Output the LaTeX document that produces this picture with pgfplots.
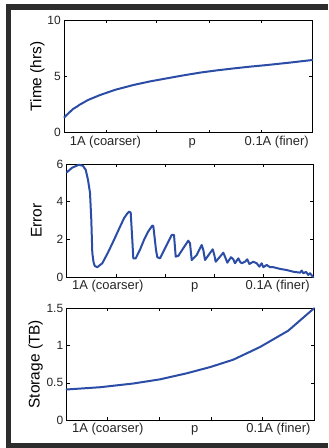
\documentclass[border=0pt]{standalone}
\usepackage{pgfplots}
\pgfplotsset{compat=1.18}
\usepackage{fontspec}
\setmainfont{Liberation Sans}
\definecolor{framec}{RGB}{45,45,45}
\definecolor{linec}{RGB}{44,77,166}
\pgfplotsset{
  myax/.style={
    scale only axis, anchor=south west,
    axis line style={black, line width=0.6bp},
    tick pos=both, tick align=inside,
    major tick length=3bp,
    every tick/.style={black, line width=0.5bp},
    xticklabels={},
    /pgf/number format/assume math mode=true,
    yticklabel style={font=\fontsize{12}{12}\selectfont, text=black!85},
    every axis y label/.style={at={(axis description cs:0,0.5)}, rotate=90, anchor=base, font=\fontsize{15.5}{16}\selectfont},
    clip=false,
  },
  myline/.style={linec, line width=2bp, line join=round, line cap=round},
}
\newcommand{\xlabs}{%
  \node[anchor=base west, font=\fontsize{13}{13}\selectfont, text=black!85] at ([xshift=2bp,yshift=-12.8bp]rel axis cs:0,0) {1A (coarser)};
  \node[anchor=base, font=\fontsize{13}{13}\selectfont, text=black!85] at ([xshift=128bp,yshift=-12.8bp]rel axis cs:0,0) {p};
  \node[anchor=base east, font=\fontsize{13}{13}\selectfont, text=black!85] at ([yshift=-12.8bp]rel axis cs:1,0) {0.1A (finer)};
}
\begin{document}
\begin{tikzpicture}[x=1bp,y=1bp]
\path[use as bounding box] (0,0) rectangle (328,448);
\fill[framec] (6,0) rectangle (328,444);
\fill[white] (11,5) rectangle (328,438);

% Plot 1: Time
\begin{axis}[myax, at={(64.3bp,315.3bp)}, width=248bp, height=112.7bp,
  xmin=64.3, xmax=312.3, ymin=0, ymax=10,
  xtick={106.7,156.7,209,261}, ytick={0,5,10},
  ylabel={Time (hrs)}, ylabel style={xshift=0bp},
  every axis y label/.append style={at={([xshift=-23bp]axis description cs:0,0.5)}}]
\addplot[myline] coordinates {
(64.3,1.36) (67,1.6) (70,1.85) (73,2.1) (76.7,2.3) (80,2.5) (88,2.9) (100,3.34)
(115,3.8) (133.3,4.23) (150,4.55) (166.7,4.82) (183,5.08) (200,5.33) (216,5.52)
(233.3,5.7) (250,5.86) (266.7,6.0) (290,6.22) (312.3,6.45)};
\xlabs
\end{axis}

% Plot 2: Error
\begin{axis}[myax, at={(66.7bp,171bp)}, width=246.6bp, height=113bp,
  xmin=66.7, xmax=313.3, ymin=0, ymax=6,
  xtick={116,165,214,263}, ytick={0,2,4,6},
  ylabel={Error},
  every axis y label/.append style={at={([xshift=-25bp]axis description cs:0,0.5)}}]
\addplot[myline] coordinates {
(66.7,5.55) (72,5.8) (79,5.96) (83,5.9) (85.7,5.69) (88,5.16) (90,4.47) (91.3,3.03)
(92.3,1.28) (93.5,0.8) (94.7,0.59) (97.3,0.52) (102.3,0.73) (108,1.3) (114,1.97)
(119,2.55) (124,3.12) (127,3.35) (129,3.47) (130.7,3.42) (132.3,1.97) (133.3,0.99)
(135.7,0.99) (140,1.45) (144,1.97) (148,2.4) (152.3,2.73) (153.3,2.71) (156,1.44)
(157.3,1.05) (160,0.99) (166.7,1.70) (171.7,2.23) (174,2.23) (175.7,1.08) (178.3,1.12)
(183.3,1.53) (188.3,1.93) (190,1.79) (191.7,0.90) (196.7,1.17) (201.7,1.70) (203.3,1.44)
(205,0.90) (209.3,1.22) (212.7,1.47) (214.3,1.17) (215.7,0.81) (220,1.08) (223.3,1.29)
(225,1.08) (227.3,0.76) (231,1.05) (233.3,0.94) (235,0.73) (238.3,0.99) (240,0.81)
(241.7,0.73) (245,0.81) (247.3,0.94) (249.3,0.69) (253.3,0.81) (256.7,0.73) (259.3,0.55)
(261.7,0.73) (263.3,0.52) (266.7,0.64) (270,0.52) (273.3,0.52) (280,0.43) (286.7,0.37)
(293.3,0.28) (300,0.23) (301.7,0.34) (303.3,0.2) (306,0.27) (308.3,0.11) (310,0.2)
(312.7,0.02) (313.3,0.0)};
\xlabs
\end{axis}

% Plot 3: Storage
\begin{axis}[myax, at={(66.7bp,28bp)}, width=247.3bp, height=111.7bp,
  xmin=66.7, xmax=314, ymin=0, ymax=1.5,
  xtick={107.3,159.3,211,262.7}, ytick={0,0.5,1,1.5},
  yticklabel style={/pgf/number format/fixed},
  ylabel={Storage (TB)},
  every axis y label/.append style={at={([xshift=-27bp]axis description cs:0,0.5)}}]
\addplot[myline] coordinates {
(66.7,0.41) (100,0.44) (133.3,0.49) (160,0.546) (186.7,0.627) (210,0.71)
(233.3,0.81) (260,0.98) (288.3,1.2) (314,1.5)};
\xlabs
\end{axis}
\end{tikzpicture}
\end{document}
